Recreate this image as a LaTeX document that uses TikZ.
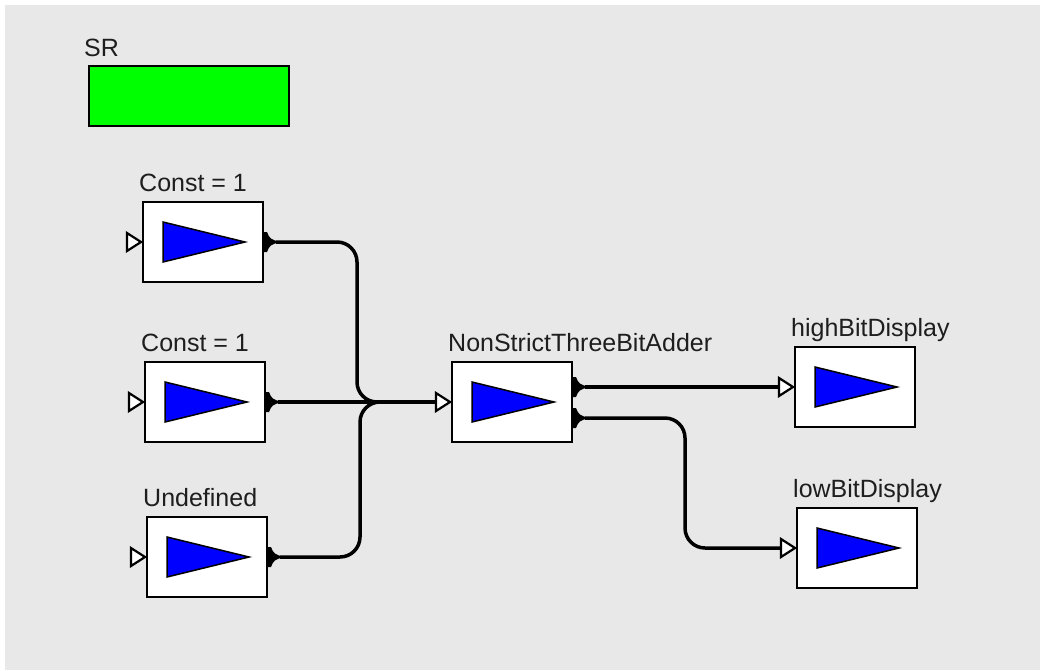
\documentclass[tikz,border=0pt]{standalone}
\usepackage{fontspec}
\setmainfont{Liberation Sans}
\usetikzlibrary{calc}
\definecolor{canvas}{HTML}{E8E8E8}
\definecolor{srgreen}{HTML}{00FF00}
\definecolor{ink}{HTML}{1E1E1E}
\tikzset{
  block/.style={draw=black, line width=2pt, fill=white,
    minimum width=120pt, minimum height=80pt, inner sep=0pt},
  caption/.style={anchor=base west, font=\fontsize{25}{29}\selectfont,
    text=ink, inner sep=0pt},
  icon/.style={draw=black, line width=1.5pt, fill=blue, line join=miter},
  wire/.style={draw=black, line width=3.5pt, rounded corners=20pt},
  inport/.style={draw=black, line width=2.2pt, fill=white, line join=miter},
  outport/.style={fill=black},
}
\begin{document}
\begin{tikzpicture}[x=1pt,y=-1pt]
\useasboundingbox (0,0) rectangle (1040,670);
\fill[white] (0,0) rectangle (1040,670);
\fill[canvas] (5,5) rectangle (1040,670);

% status bar
\node[draw=black, line width=2pt, fill=srgreen, minimum width=200pt,
      minimum height=60pt, inner sep=0pt] (sr) at (189,96) {};
\node[caption] (srlabel) at ([xshift=-4pt,yshift=9pt]sr.north west) {SR};

% actor blocks with their single-input port and icon
\foreach \n/\x/\y/\t in {c1/203/242/{Const = 1}, c2/205/402/{Const = 1},
    und/207/557/{Undefined}, add/512/402/{NonStrictThreeBitAdder},
    high/855/387/{highBitDisplay}, low/857/548/{lowBitDisplay}} {
  \node[block] (\n) at (\x,\y) {};
  \node[caption] (\n-label) at ([xshift=-3pt,yshift=10pt]\n.north west) {\t};
  \draw[icon] ($(\n.center)+(-40,-20)$) -- ($(\n.center)+(42,0)$)
              -- ($(\n.center)+(-40,20)$) -- cycle;
  \draw[inport] ($(\n.west)+(-15,-9)$) -- ($(\n.west)+(-1,0)$)
                -- ($(\n.west)+(-15,9)$) -- cycle;
  \coordinate (\n-in) at ($(\n.west)+(-15,0)$);
}

% output ports
\foreach \n/\dy/\p in {c1/0/out, c2/0/out, und/0/out, add/-15/outa, add/16/outb} {
  \fill[outport] ($(\n.east)+(-1,\dy-10)$) -- ($(\n.east)+(3,\dy-10)$)
      .. controls ($(\n.east)+(6,\dy-3)$) .. ($(\n.east)+(16,\dy)$)
      .. controls ($(\n.east)+(6,\dy+3)$) .. ($(\n.east)+(3,\dy+10)$)
      -- ($(\n.east)+(-1,\dy+10)$) -- cycle;
  \coordinate (\n-\p) at ($(\n.east)+(12,\dy)$);
}

% connections
\draw[wire] (c1-out) -- (357,242) -- (357,402) -- (add-in);
\draw[wire] (c2-out) -- (add-in);
\draw[wire] (und-out) -- (360,557) -- (360,402) -- (add-in);
\draw[wire] (add-outa) -- (high-in);
\draw[wire] (add-outb) -- (685,418) -- (685,548) -- (low-in);
\end{tikzpicture}
\end{document}
